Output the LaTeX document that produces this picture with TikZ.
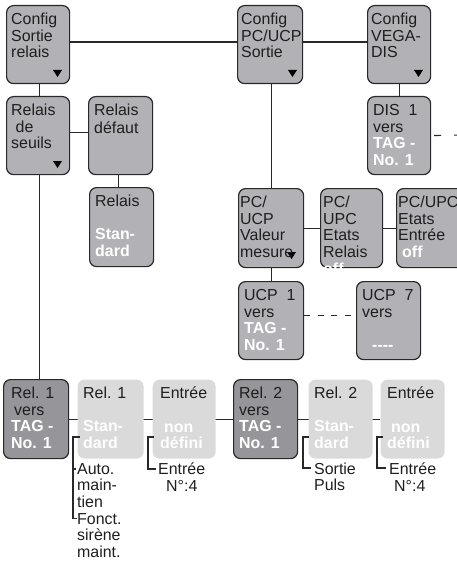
\documentclass[tikz,border=0pt]{standalone}
\usepackage{fontspec}
\setmainfont{Liberation Sans}
\definecolor{boxgray}{RGB}{178,178,182}
\definecolor{darkgray2}{RGB}{150,150,154}
\definecolor{lightgray2}{RGB}{218,218,218}
\definecolor{edge}{RGB}{40,40,40}
\definecolor{ink}{RGB}{30,30,30}
\pgfdeclarelayer{bg}
\pgfsetlayers{bg,main}
\newcommand\W[1]{{\bfseries\color{white}#1}}
\newcommand\bx[6][box]{\node[#1, minimum width={#4bp-#2bp}, minimum height={#5bp-#3bp}] (#6) at (#2,#3) {};}
\newcommand\tri[3]{\fill[black] (#2-16,#3-13) -- (#2-7,#3-13) -- (#2-11.5,#3-6) -- cycle;}
\begin{document}
\begin{tikzpicture}[x=1bp,y=-1bp,
  box/.style={draw=edge, line width=1.2bp, rounded corners=7bp, fill=boxgray, inner sep=0pt, anchor=north west},
  darkbox/.style={box, fill=darkgray2},
  lightbox/.style={box, draw=none, fill=lightgray2},
  txt/.style={anchor=north west, inner sep=0pt, align=left, text=ink, font=\fontsize{16}{16.7}\selectfont},
  conn/.style={draw=edge, line width=1.1bp}]
\useasboundingbox (0,0) rectangle (457,564);
\clip (0,0) rectangle (457,564);
% boxes
\bx{6}{5}{69}{83}{csr}
\bx{237}{5}{302}{83}{pcs}
\bx{367}{5}{430}{83}{vega}
\bx{6}{96}{69}{174}{rds}
\bx{88}{96}{152}{174}{rdf}
\bx{89}{187}{153}{266}{rstd}
\bx{367}{96}{430}{174}{dis}
\bx{238}{188}{303}{267}{pcv}
\bx{320}{188}{382}{267}{per}
\bx{396}{188}{470}{267}{pee}
\bx{238}{281}{303}{359}{ucpa}
\bx{356}{281}{420}{359}{ucpb}
\bx[darkbox]{3}{379}{68}{458}{ra}
\bx[lightbox]{77}{379}{143}{458}{rsa}
\bx[lightbox]{152}{379}{215}{458}{ea}
\bx[darkbox]{233}{379}{297}{458}{rb}
\bx[lightbox]{308}{379}{372}{458}{rsb}
\bx[lightbox]{380}{379}{444}{458}{eb}
% triangles
\tri{csr}{69}{83}
\tri{rds}{69}{174}
\tri{pcs}{304}{83}
\tri{vega}{430}{83}
\tri{pcv}{303}{265}
% texts
\node[txt] (csrt) at (11,12.8) {\strut Config\\Sortie\\relais};
\node[txt] (pcst) at (241,12.8) {\strut Config\\PC/UCP\\Sortie};
\node[txt] (vegat) at (371,12.8) {\strut Config\\VEGA-\\DIS};
\node[txt] (rdst) at (11,103.8) {\strut Relais\\\hspace{4.5bp}de\\seuils};
\node[txt] (rdft) at (94,103.8) {\strut Relais\\défaut};
\node[txt] (rstdt) at (95,194.8) {\strut Relais\\\mbox{}\\\W{Stan-}\\\W{dard}};
\node[txt] (dist) at (373,103.8) {\strut DIS\ \ 1\\vers\\\W{TAG -}\\\W{No. 1}};
\node[txt] (pcvt) at (240,195.8) {\strut PC/\\UCP\\Valeur\\mesure};
\node[txt] (pert) at (323,195.8) {\strut PC/\\UPC\\Etats\\Relais\\\W{off}};
\node[txt] (peet) at (398,195.8) {\strut PC/UPC\\Etats\\Entrée\\\hspace{4bp}\W{off}};
\node[txt] (ucpat) at (244,288.8) {\strut UCP\ \ 1\\vers\\\W{TAG -}\\\W{No. 1}};
\node[txt] (ucpbt) at (362,288.8) {\strut UCP\ \ 7\\vers\\\mbox{}\\\hspace{10bp}\W{-{}-{}-{}-}};
\node[txt] (rat) at (11,386.8) {\strut Rel. 1\\\hspace{3bp}vers\\\W{TAG -}\\\W{No. 1}};
\node[txt] (rsat) at (83,386.8) {\strut Rel. 1\\\mbox{}\\\W{Stan-}\\\W{dard}};
\node[txt] (eat) at (160,386.8) {\strut Entrée\\\mbox{}\\\hspace{4bp}\W{non}\\\W{défini}};
\node[txt] (rbt) at (239,386.8) {\strut Rel. 2\\vers\\\W{TAG -}\\\W{No. 1}};
\node[txt] (rsbt) at (314,386.8) {\strut Rel. 2\\\mbox{}\\\W{Stan-}\\\W{dard}};
\node[txt] (ebt) at (387,386.8) {\strut Entrée\\\mbox{}\\\hspace{4bp}\W{non}\\\W{défini}};
% annotations
\node[txt] (an1) at (77,462.5) {\strut Auto.\\main-\\tien\\Fonct.\\sirène\\maint.};
\node[txt] (an2) at (158,462.5) {\strut Entrée\\\hspace{8bp}N°:4};
\node[txt] (an3) at (314,462.5) {\strut Sortie\\Puls};
\node[txt] (an4) at (389,462.5) {\strut Entrée\\\hspace{5bp}N°:4};
\draw[conn] (80,437) -- (73,437) -- (73,518.5) -- (77,518.5) (73,469) -- (76,469);
\draw[conn] (154,437) -- (148,437) -- (148,469) -- (156,469);
\draw[conn] (309,437) -- (303,437) -- (303,468) -- (311,468);
\draw[conn] (383,437) -- (377,437) -- (377,468) -- (386,468);
% connectors
\coordinate (disend) at (462,135);
\begin{pgfonlayer}{bg}
\draw[conn] (csr.east |- 0,42) -- (pcs.west |- 0,42) (pcs.east |- 0,42) -- (vega.west |- 0,42);
\draw[conn] ([xshift=1.5bp]csr.south) -- ([xshift=1.5bp]rds.north);
\draw[conn] ([yshift=3bp]rds.east) -- ([yshift=3bp]rdf.west);
\draw[conn] ([xshift=-2bp]rdf.south) -- ([xshift=-2bp]rdf.south |- rstd.north);
\draw[conn] (pcs.south -| pcv.north) -- (pcv.north);
\draw[conn] (vega.south) -- (vega.south |- dis.north);
\draw[conn] (pcv.east) -- (per.west) (per.east) -- (pee.west);
\draw[conn] (pcv.south) -- (ucpa.north);
\draw[conn, dash pattern=on 6bp off 7.5bp] ([yshift=5bp]ucpa.east) -- ([yshift=5bp]ucpb.west);
\draw[conn, dash pattern=on 0bp off 3bp on 7bp off 13bp on 12bp] (dis.east) -- (disend);
\draw[conn] ([xshift=1.5bp]rds.south) -- ([xshift=1.5bp]rds.south |- ra.north);
\draw[conn] (ra.east) -- (eb.west);
\end{pgfonlayer}
\end{tikzpicture}
\end{document}
